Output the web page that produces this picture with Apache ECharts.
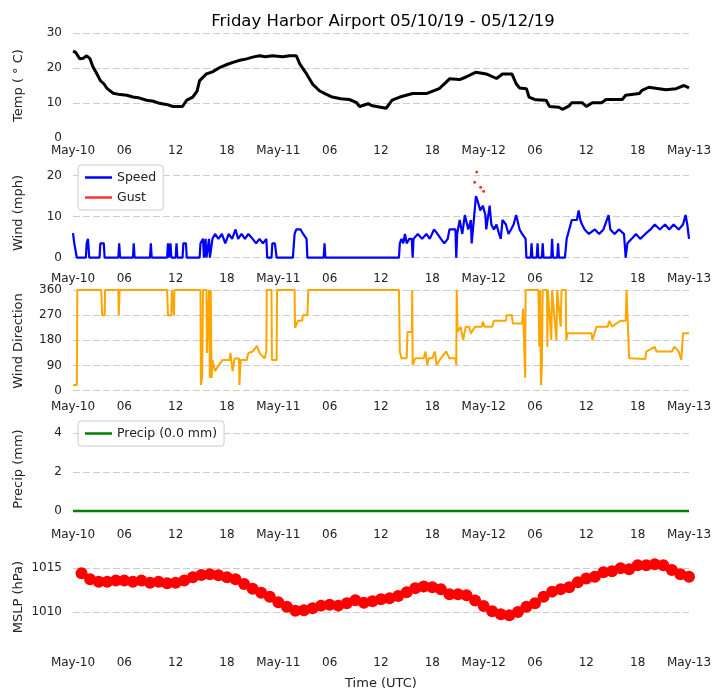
<!DOCTYPE html>
<html>
<head>
<meta charset="utf-8">
<script src="https://cdn.jsdelivr.net/npm/echarts@6/dist/echarts.min.js"></script>
<style>
  html, body { margin: 0; padding: 0; background: #fff; }
  #chart { width: 723px; height: 700px; }
</style>
</head>
<body>
<div id="chart"></div>
<script>
// time is hours since 2019-05-10 00:00 UTC
const dayLabels = ["May-10", "May-11", "May-12", "May-13"];
const xTicks = [0, 6, 12, 18, 24, 30, 36, 42, 48, 54, 60, 66, 72];

// temperature (°C)
const tempData = [
  [0, 24.8], [0.3, 24.5], [0.8, 22.6], [1.2, 22.8], [1.6, 23.5], [2.0, 22.6], [2.3, 20.5],
  [2.8, 18.3], [3.2, 16.4], [3.6, 15.5], [4.0, 14.1], [4.7, 12.8], [5.5, 12.4], [6.3, 12.2],
  [7.0, 11.7], [7.8, 11.4], [8.6, 10.8], [9.4, 10.5], [10.1, 9.9], [10.9, 9.6], [11.7, 9.0],
  [12.8, 9.0], [13.3, 10.8], [14.0, 11.7], [14.5, 13.4], [14.8, 16.4], [15.6, 18.3], [16.3, 18.9],
  [17.2, 20.2], [18.0, 21.0], [18.7, 21.6], [19.5, 22.2], [20.3, 22.6], [21.0, 23.1], [21.8, 23.5],
  [22.5, 23.2], [23.3, 23.5], [24.5, 23.2], [25.3, 23.5], [26.1, 23.5], [26.5, 21.2], [27.3, 18.3],
  [28.0, 15.4], [28.8, 13.5], [29.5, 12.6], [30.3, 11.7], [31.3, 11.2], [32.3, 11.0], [33.1, 10.2],
  [33.5, 9.0], [34.5, 9.8], [35.0, 9.2], [36.6, 8.5], [37.3, 10.8], [38.2, 11.7], [39.7, 12.7], [41.3, 12.7],
  [42.8, 14.1], [43.6, 15.9], [44.0, 16.9], [45.2, 16.7], [46.0, 17.5], [47.1, 18.8], [48.3, 18.3],
  [49.5, 17.0], [50.2, 18.3], [51.3, 18.3], [51.8, 15.5], [52.2, 14.3], [53.0, 14.1], [53.3, 11.7],
  [54.1, 10.9], [55.3, 10.8], [55.7, 9.0], [56.8, 8.8], [57.2, 8.2], [58.0, 9.2], [58.3, 10.1],
  [59.5, 10.1], [60.0, 9.0], [60.7, 10.1], [61.8, 10.1], [62.3, 11.0], [64.2, 11.0], [64.6, 12.2],
  [66.2, 12.7], [66.5, 13.6], [67.3, 14.5], [68.5, 14.1], [69.3, 13.8], [70.5, 14.1], [71.4, 15.0],
  [72.0, 14.3]
];

// wind speed (mph)
const windSpeed = [
  [0, 6.0], [0.15, 3.5], [0.3, 3.5], [0.45, 0], [1.5, 0], [1.6, 3.5], [1.75, 4.6], [1.9, 0],
  [3.1, 0], [3.2, 3.5], [3.6, 3.5], [3.7, 0], [5.3, 0], [5.4, 3.5], [5.5, 0], [7.0, 0], [7.1, 3.5],
  [7.2, 0], [9.0, 0], [9.1, 3.5], [9.2, 0], [11.0, 0], [11.1, 3.5], [11.2, 0], [11.4, 3.5], [11.5, 0],
  [12.0, 0], [12.1, 3.5], [12.2, 0], [12.8, 0], [12.9, 3.5], [13.2, 3.5], [13.3, 0], [14.8, 0],
  [14.9, 3.5], [15.2, 4.6], [15.3, 0], [15.5, 4.6], [15.6, 0], [15.9, 4.6], [16.0, 0], [16.3, 4.6],
  [16.6, 5.8], [17.0, 4.6], [17.4, 5.8], [17.8, 3.5], [18.2, 5.8], [18.6, 4.6], [19.0, 6.9],
  [19.3, 4.6], [19.7, 5.8], [20.1, 4.6], [20.5, 5.8], [21.0, 4.6], [21.4, 3.5], [21.8, 4.6],
  [22.2, 3.5], [22.6, 4.6], [22.7, 0], [23.2, 0], [23.3, 3.5], [23.6, 3.5], [23.8, 0], [25.7, 0],
  [25.9, 5.8], [26.1, 6.9], [26.6, 6.9], [26.9, 5.8], [27.3, 4.6], [27.4, 0], [29.3, 0], [29.4, 3.5],
  [29.5, 0], [38.1, 0], [38.2, 3.5], [38.4, 4.6], [38.6, 3.5], [38.8, 5.8], [39.0, 3.5], [39.3, 4.6],
  [39.6, 4.6], [39.7, 0], [39.8, 4.6], [40.3, 5.8], [40.8, 4.6], [41.3, 5.8], [41.7, 4.6], [42.2, 6.9],
  [42.6, 5.8], [43.0, 4.6], [43.4, 3.5], [43.8, 4.6], [44.0, 6.9], [44.7, 6.9], [44.8, 0], [44.9, 5.8],
  [45.2, 9.2], [45.5, 5.8], [45.8, 10.4], [46.2, 6.9], [46.5, 9.2], [46.6, 3.5], [46.9, 10.4],
  [47.1, 15.0], [47.3, 13.8], [47.6, 11.5], [47.9, 12.7], [48.2, 10.4], [48.3, 6.9], [48.7, 12.7],
  [48.9, 8.1], [49.2, 6.9], [49.5, 8.1], [49.8, 5.8], [50.0, 4.6], [50.2, 9.2], [50.6, 8.1],
  [50.9, 5.8], [51.2, 6.9], [51.5, 8.1], [51.8, 10.4], [52.2, 6.9], [52.5, 5.8], [52.9, 4.6],
  [53.0, 0], [53.5, 0], [53.6, 3.5], [53.7, 0], [54.2, 0], [54.3, 3.5], [54.4, 0], [54.8, 0],
  [54.9, 3.5], [55.0, 0], [55.9, 0], [56.0, 4.6], [56.1, 0], [56.6, 0], [56.7, 3.5], [56.8, 0],
  [57.5, 0], [57.7, 4.6], [58.0, 6.9], [58.3, 9.2], [58.9, 9.2], [59.1, 11.5], [59.3, 9.2],
  [59.5, 8.1], [59.8, 6.9], [60.3, 5.8], [61.0, 6.9], [61.5, 5.8], [62.0, 6.9], [62.6, 10.4],
  [62.8, 6.9], [63.3, 5.8], [63.8, 6.9], [64.4, 5.8], [64.6, 0], [64.8, 3.5], [65.3, 4.6],
  [65.8, 5.8], [66.3, 4.6], [66.9, 5.8], [67.5, 6.9], [68.0, 8.1], [68.6, 6.9], [69.2, 8.1],
  [69.7, 6.9], [70.2, 8.1], [70.8, 6.9], [71.3, 8.1], [71.6, 10.4], [71.8, 8.1], [72.0, 4.6]
];

// gusts (mph)
const windGust = [[46.95, 18.4], [47.19, 20.9], [47.65, 17.2], [48.0, 16.2]];

// wind direction (degrees)
const windDir = [
  [0, 20], [0.45, 20], [0.5, 360], [3.3, 360], [3.4, 270], [3.7, 270], [3.75, 360], [5.3, 360],
  [5.35, 270], [5.45, 360], [11.0, 360], [11.1, 270], [11.5, 270], [11.55, 360], [11.75, 360],
  [11.8, 270], [11.85, 360], [14.9, 360], [14.95, 20], [15.1, 50], [15.2, 360], [15.6, 360],
  [15.65, 135], [15.85, 135], [15.9, 360], [16.0, 45], [16.1, 360], [16.2, 45], [16.3, 110],
  [16.6, 70], [17.0, 90], [17.5, 110], [18.3, 110], [18.4, 135], [18.6, 135], [18.65, 70],
  [18.9, 115], [19.4, 115], [19.45, 20], [19.6, 110], [20.3, 110], [20.5, 135], [21.0, 140],
  [21.5, 160], [21.8, 135], [22.4, 115], [22.6, 140], [22.65, 360], [23.2, 360], [23.25, 110],
  [23.8, 110], [23.85, 360], [25.9, 360], [25.95, 225], [26.3, 250], [26.8, 250], [26.85, 270],
  [27.4, 270], [27.5, 360], [38.1, 360], [38.2, 140], [38.4, 116], [39.0, 116], [39.1, 210],
  [39.6, 210], [39.65, 360], [39.7, 92], [40.0, 116], [41.0, 116], [41.2, 140], [41.4, 92],
  [41.6, 116], [42.0, 116], [42.3, 140], [42.5, 92], [43.0, 116], [43.6, 140], [44.0, 116],
  [44.7, 116], [44.8, 92], [44.85, 360], [44.95, 210], [45.3, 229], [45.6, 181], [45.9, 229],
  [46.3, 229], [46.5, 205], [47.0, 229], [47.8, 229], [47.9, 247], [48.1, 229], [49.0, 229],
  [49.2, 250], [50.6, 250], [50.7, 270], [51.3, 270], [51.4, 240], [52.5, 240], [52.6, 294],
  [52.8, 294], [52.85, 46], [52.9, 360], [54.4, 360], [54.5, 157], [54.6, 360], [54.7, 20],
  [54.8, 86], [54.9, 360], [55.4, 360], [55.45, 157], [55.5, 360], [55.9, 181], [56.0, 360],
  [56.5, 181], [56.6, 360], [57.0, 229], [57.1, 360], [57.6, 360], [57.65, 181], [57.8, 205],
  [60.6, 205], [60.7, 181], [61.2, 229], [62.5, 229], [62.7, 250], [63.0, 229], [64.0, 250],
  [64.6, 250], [64.7, 360], [65.0, 116], [66.9, 113], [67.0, 140], [68.0, 157], [68.2, 140],
  [70.0, 140], [70.3, 157], [70.8, 140], [71.1, 110], [71.3, 205], [72.0, 205]
];

// precipitation (mm)
const precipData = [[0, 0], [24, 0], [48, 0], [72, 0]];

// sea level pressure (hPa), hourly
const mslpHours = [
  1, 2, 3, 4, 5, 6, 7, 8, 9, 10, 11, 12, 13, 14, 15, 16, 17, 18, 19, 20, 21, 22, 23, 24,
  25, 26, 27, 28, 29, 30, 31, 32, 33, 34, 35, 36, 37, 38, 39, 40, 41, 42, 43, 44, 45, 46, 47, 48,
  49, 50, 51, 52, 53, 54, 55, 56, 57, 58, 59, 60, 61, 62, 63, 64, 65, 66, 67, 68, 69, 70, 71, 72
];
const mslpValues = [
  1014.43, 1013.75, 1013.48, 1013.48, 1013.6, 1013.6, 1013.48, 1013.6, 1013.37, 1013.48, 1013.3, 1013.37,
  1013.6, 1013.98, 1014.24, 1014.32, 1014.2, 1013.98, 1013.75, 1013.22, 1012.69, 1012.23, 1011.78, 1011.14,
  1010.64, 1010.19, 1010.23, 1010.45, 1010.76, 1010.87, 1010.76, 1011.02, 1011.36, 1011.1, 1011.25, 1011.48,
  1011.59, 1011.86, 1012.27, 1012.73, 1012.92, 1012.84, 1012.61, 1012.05, 1012.05, 1011.93, 1011.33, 1010.72,
  1010.11, 1009.77, 1009.66, 1010.04, 1010.64, 1011.02, 1011.78, 1012.35, 1012.61, 1012.84, 1013.41, 1013.83,
  1014.05, 1014.55, 1014.66, 1015.0, 1014.89, 1015.34, 1015.34, 1015.45, 1015.34, 1014.81, 1014.32, 1014.05
];

const font = "DejaVu Sans";
const textColor = "#222";
const gridColor = "#cccccc";

// panel boxes
const panelTops = [33, 160, 288, 416, 544];
const panelHeights = [105, 106, 106, 106, 106];

function xLabel(v) {
  if (v % 24 === 0) return dayLabels[v / 24];
  const h = v % 24;
  return (h < 10 ? "0" : "") + h;
}

const grids = panelTops.map((t, i) => ({
  left: 73, width: 616, top: t, height: panelHeights[i],
  containLabel: false, outerBoundsMode: "none"
}));

const xAxes = grids.map((g, i) => ({
  type: "value",
  gridIndex: i,
  min: 0,
  max: 72,
  interval: 6,
  axisLine: { show: false },
  axisTick: { show: false },
  splitLine: { show: false },
  axisLabel: {
    formatter: xLabel,
    color: textColor,
    fontFamily: font,
    fontSize: 12,
    margin: 7,
    showMinLabel: true,
    showMaxLabel: true
  },
  name: i === 4 ? "Time (UTC)" : "",
  nameLocation: "middle",
  nameGap: 27,
  nameMoveOverlap: false,
  nameTextStyle: { color: textColor, fontFamily: font, fontSize: 13 }
}));

function yAxis(i, name, min, max, labels, lines) {
  return {
    type: "value",
    gridIndex: i,
    min: min,
    max: max,
    name: name,
    nameLocation: "middle",
    nameGap: 48,
    nameMoveOverlap: false,
    nameTextStyle: { color: textColor, fontFamily: font, fontSize: 13 },
    axisLine: { show: false },
    axisTick: { show: false, customValues: lines },
    axisLabel: {
      customValues: labels,
      formatter: v => String(v),
      color: textColor, fontFamily: font, fontSize: 12, margin: 11
    },
    splitLine: { show: true, lineStyle: { color: gridColor, type: [7, 3], width: 1 } }
  };
}

const yAxes = [
  yAxis(0, "Temp ( ° C)", 0, 30, [0, 10, 20, 30], [10, 20, 30]),
  yAxis(1, "Wind (mph)", -2.02, 23.83, [0, 10, 20], [0, 10, 20]),
  yAxis(2, "Wind Direction", -11.8, 367.2, [0, 90, 180, 270, 360], [0, 90, 180, 270, 360]),
  yAxis(3, "Precip (mm)", -0.566, 4.89, [0, 2, 4], [0, 2, 4]),
  yAxis(4, "MSLP (hPa)", 1005.72, 1017.76, [1010, 1015], [1010, 1015])
];

const legendBase = {
  orient: "vertical",
  left: 78,
  icon: "rect",
  itemWidth: 27,
  itemHeight: 2.5,
  itemGap: 7,
  padding: [6, 7, 6, 7],
  borderColor: "#cccccc",
  borderWidth: 1,
  borderRadius: 3,
  backgroundColor: "rgba(255,255,255,0.85)",
  textStyle: { color: textColor, fontFamily: font, fontSize: 12.5 }
};

const chart = echarts.init(document.getElementById("chart"), null, { renderer: "canvas" });
chart.setOption({
  animation: false,
  backgroundColor: "#fff",
  title: {
    text: "Friday Harbor Airport 05/10/19 - 05/12/19",
    left: 378,
    textAlign: "center",
    top: 8,
    textStyle: { color: "#000", fontFamily: font, fontSize: 16.5, fontWeight: "normal" }
  },
  legend: [
    Object.assign({}, legendBase, { top: 165, data: ["Speed", "Gust"] }),
    Object.assign({}, legendBase, { top: 421, data: ["Precip (0.0 mm)"] })
  ],
  grid: grids,
  xAxis: xAxes,
  yAxis: yAxes,
  series: [
    {
      name: "Temp",
      type: "line",
      xAxisIndex: 0,
      yAxisIndex: 0,
      data: tempData,
      showSymbol: false,
      lineStyle: { color: "#000", width: 3 },
      itemStyle: { color: "#000" }
    },
    {
      name: "Speed",
      type: "line",
      xAxisIndex: 1,
      yAxisIndex: 1,
      data: windSpeed,
      showSymbol: false,
      lineStyle: { color: "#0000ff", width: 2.2 },
      itemStyle: { color: "#0000ff" }
    },
    {
      name: "Gust",
      type: "scatter",
      xAxisIndex: 1,
      yAxisIndex: 1,
      data: windGust,
      symbolSize: 3,
      itemStyle: { color: "#ff0000" }
    },
    {
      name: "Direction",
      type: "line",
      xAxisIndex: 2,
      yAxisIndex: 2,
      data: windDir,
      showSymbol: false,
      lineStyle: { color: "#ffa500", width: 2 },
      itemStyle: { color: "#ffa500" }
    },
    {
      name: "Precip (0.0 mm)",
      type: "line",
      xAxisIndex: 3,
      yAxisIndex: 3,
      data: precipData,
      showSymbol: false,
      lineStyle: { color: "#008000", width: 2.5 },
      itemStyle: { color: "#008000" }
    },
    {
      name: "MSLP",
      type: "scatter",
      xAxisIndex: 4,
      yAxisIndex: 4,
      data: mslpHours.map((h, i) => [h, mslpValues[i]]),
      symbolSize: 12,
      itemStyle: { color: "#ff0000", opacity: 1 }
    }
  ]
});
</script>
</body>
</html>
